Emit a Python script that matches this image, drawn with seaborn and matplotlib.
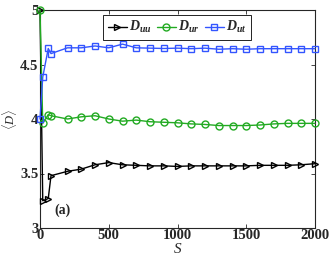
import pandas as pd
import matplotlib
matplotlib.use("Agg")
import matplotlib.pyplot as plt
import seaborn as sns

sns.set_style("ticks")
plt.rcParams["font.family"] = ["Liberation Serif", "DejaVu Serif"]
plt.rcParams["mathtext.fontset"] = "custom"
plt.rcParams["mathtext.rm"] = "Liberation Serif"
plt.rcParams["mathtext.it"] = "Liberation Serif:italic"
plt.rcParams["mathtext.bf"] = "Liberation Serif:bold"
plt.rcParams["mathtext.bfit"] = "Liberation Serif:italic:bold"

# Data
s_values = [0, 20, 60, 80] + list(range(200, 2001, 100))
d_uu = [5.0, 3.25, 3.27, 3.48, 3.52, 3.54, 3.58, 3.60, 3.58, 3.575, 3.57, 3.57,
        3.565, 3.57, 3.57, 3.57, 3.57, 3.57, 3.575, 3.575, 3.575, 3.58, 3.59]
d_ur = [5.0, 3.96, 4.04, 4.03, 4.00, 4.02, 4.03, 4.00, 3.98, 3.99, 3.975, 3.97,
        3.965, 3.955, 3.95, 3.94, 3.94, 3.94, 3.945, 3.955, 3.96, 3.96, 3.96]
d_ut = [4.0, 4.385, 4.647, 4.60, 4.653, 4.653, 4.67, 4.653, 4.687, 4.653, 4.65, 4.647,
        4.65, 4.645, 4.65, 4.64, 4.645, 4.64, 4.645, 4.645, 4.645, 4.645, 4.645]
series_labels = [r"$\mathbfit{D}_{\mathbfit{uu}}$", r"$\mathbfit{D}_{\mathbfit{ur}}$",
                 r"$\mathbfit{D}_{\mathbfit{ut}}$"]
series_colors = ["black", "#22aa22", "#3355ff"]
series_markers = [">", "o", "s"]

fig = plt.figure(figsize=(3.32, 2.58), dpi=100)
ax = fig.add_axes([40 / 332, 1 - 228 / 258, 275 / 332, 218 / 258])

for vals, lab, col, mk in zip([d_uu, d_ur, d_ut], series_labels, series_colors, series_markers):
    df = pd.DataFrame({"S": s_values, "D": vals})
    sns.lineplot(data=df, x="S", y="D", ax=ax, color=col, marker=mk, markersize=5,
                 markerfacecolor="none", markeredgecolor=col, markeredgewidth=1.0,
                 linewidth=1.0, label=lab, clip_on=False, zorder=3)

ax.set_xlim(0, 2000)
ax.set_ylim(3, 5)
ax.set_xticks([0, 500, 1000, 1500, 2000])
ax.set_yticks([3, 3.5, 4, 4.5, 5])
ax.set_yticklabels(["3", "3.5", "4", "4.5", "5"])
ax.tick_params(direction="in", top=True, right=True, length=3, width=0.6,
               labelsize=10.5, pad=1)
for lbl in ax.get_xticklabels() + ax.get_yticklabels():
    lbl.set_fontweight("bold")
for sp in ax.spines.values():
    sp.set_linewidth(0.8)

ax.set_xlabel("S", fontsize=11, fontstyle="italic")
ax.xaxis.set_label_coords(0.5, -0.07)
ax.set_ylabel(r"$\langle D\rangle$", fontsize=9, labelpad=1)

ax.text(108, 3.165, "(a)", fontsize=10, fontweight="bold", va="center")

leg = ax.legend(ncol=3, loc="upper right", bbox_to_anchor=(0.767, 0.976),
                fontsize=10, handlelength=1.4, handletextpad=0.15, columnspacing=0.35,
                borderpad=0.3, borderaxespad=0, fancybox=False, edgecolor="black",
                framealpha=1)
leg.get_frame().set_linewidth(0.6)

fig.savefig("out.png", dpi=100)
